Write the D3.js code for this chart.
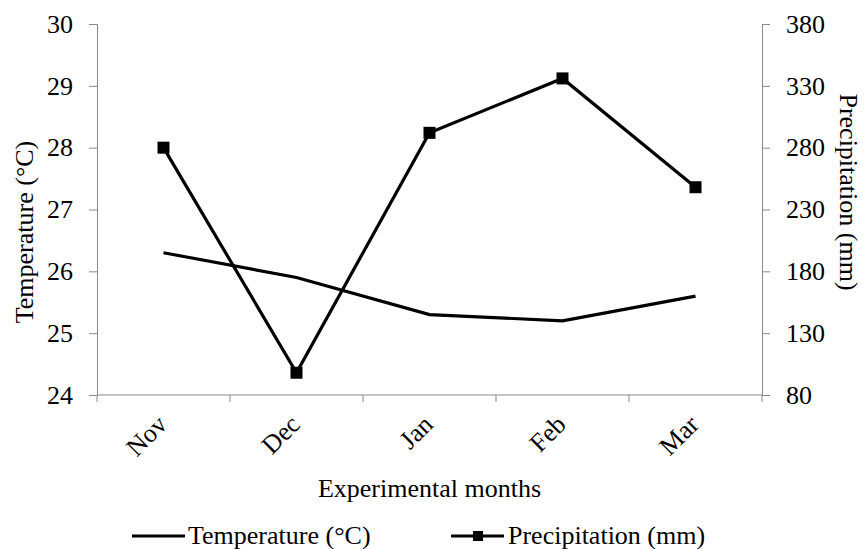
<!DOCTYPE html>
<html>
<head>
<meta charset="utf-8">
<script src="https://cdn.jsdelivr.net/npm/d3@7"></script>
<style>
  body { margin: 0; background: #fff; }
</style>
</head>
<body>
<div id="chart"></div>
<script>
const width = 865;
const height = 549;

const months = ["Nov", "Dec", "Jan", "Feb", "Mar"];
const temperature = [26.3, 25.9, 25.3, 25.2, 25.6];
const precipitation = [280, 98, 292, 336, 248];

const tempTicks = [24, 25, 26, 27, 28, 29, 30];
const precipTicks = [80, 130, 180, 230, 280, 330, 380];

const margin = {top: 24, right: 103, bottom: 154, left: 97};
const axisColor = "#898989";
const fontSize = 26;
const serif = "'Liberation Serif', 'Times New Roman', Times, serif";

const svg = d3.select("#chart").append("svg")
    .attr("width", width)
    .attr("height", height)
    .attr("font-family", serif)
    .style("font-family", serif);

const x = d3.scaleBand()
    .domain(months)
    .range([margin.left, width - margin.right]);

const yLeft = d3.scaleLinear()
    .domain([24, 30])
    .range([height - margin.bottom, margin.top]);

const yRight = d3.scaleLinear()
    .domain([80, 380])
    .range([height - margin.bottom, margin.top]);

const cx = d => x(d) + x.bandwidth() / 2;

// left axis
const gl = svg.append("g")
    .attr("transform", `translate(${margin.left},0)`)
    .call(d3.axisLeft(yLeft).tickValues(tempTicks).tickFormat(d3.format("d"))
        .tickSize(8).tickPadding(16));

// right axis
const gr = svg.append("g")
    .attr("transform", `translate(${width - margin.right},0)`)
    .call(d3.axisRight(yRight).tickValues(precipTicks).tickFormat(d3.format("d"))
        .tickSize(8).tickPadding(16));

// bottom axis with ticks on band edges
const xEdges = months.map(m => x(m)).concat([width - margin.right]);
const gb = svg.append("g");
gb.append("line")
    .attr("x1", margin.left).attr("x2", width - margin.right)
    .attr("y1", yLeft(24)).attr("y2", yLeft(24));
gb.selectAll("line.tick")
    .data(xEdges)
    .join("line")
    .attr("class", "tick")
    .attr("x1", d => d).attr("x2", d => d)
    .attr("y1", yLeft(24)).attr("y2", yLeft(24) + 7);

[gl, gr].forEach(g => {
    g.attr("font-family", null).attr("font-size", null);
    g.select(".domain").attr("stroke", axisColor);
    g.selectAll(".tick line").attr("stroke", axisColor);
    g.selectAll(".tick text")
        .style("font-family", serif)
        .style("font-size", fontSize + "px")
        .attr("fill", "#000");
});
gb.selectAll("line").attr("stroke", axisColor);

function label(sel) {
    return sel.style("font-family", serif)
        .style("font-size", fontSize + "px")
        .attr("fill", "#000");
}

// rotated month labels
svg.append("g").selectAll("text")
    .data(months)
    .join("text")
    .attr("transform", d => `translate(${cx(d) + 5},${yLeft(24) + 31}) rotate(-45)`)
    .attr("text-anchor", "end")
    .call(label)
    .text(d => d);

// axis titles
svg.append("text")
    .attr("transform", `translate(33,232) rotate(-90)`)
    .attr("text-anchor", "middle")
    .call(label)
    .text("Temperature (°C)");

svg.append("text")
    .attr("transform", `translate(840,192) rotate(90)`)
    .attr("text-anchor", "middle")
    .call(label)
    .text("Precipitation (mm)");

svg.append("text")
    .attr("x", (margin.left + width - margin.right) / 2)
    .attr("y", 497)
    .attr("text-anchor", "middle")
    .call(label)
    .text("Experimental months");

// lines
const tempLine = d3.line()
    .x((d, i) => cx(months[i]))
    .y(d => yLeft(d));

const precipLine = d3.line()
    .x((d, i) => cx(months[i]))
    .y(d => yRight(d));

svg.append("path")
    .datum(temperature)
    .attr("d", tempLine)
    .attr("fill", "none")
    .attr("stroke", "#000")
    .attr("stroke-width", 3.2);

svg.append("path")
    .datum(precipitation)
    .attr("d", precipLine)
    .attr("fill", "none")
    .attr("stroke", "#000")
    .attr("stroke-width", 3.2);

const sq = 12;
svg.append("g").selectAll("rect")
    .data(precipitation)
    .join("rect")
    .attr("x", (d, i) => cx(months[i]) - sq / 2)
    .attr("y", d => yRight(d) - sq / 2)
    .attr("width", sq)
    .attr("height", sq)
    .attr("fill", "#000");

// legend
const legendY = 536;
const legend = svg.append("g");
legend.append("line")
    .attr("x1", 132).attr("x2", 185)
    .attr("y1", legendY).attr("y2", legendY)
    .attr("stroke", "#000").attr("stroke-width", 3.2);
legend.append("text")
    .attr("x", 188).attr("y", legendY + 8)
    .call(label)
    .text("Temperature (°C)");

legend.append("line")
    .attr("x1", 451).attr("x2", 504)
    .attr("y1", legendY).attr("y2", legendY)
    .attr("stroke", "#000").attr("stroke-width", 3.2);
legend.append("rect")
    .attr("x", 478 - 5).attr("y", legendY - 5)
    .attr("width", 10).attr("height", 10)
    .attr("fill", "#000");
legend.append("text")
    .attr("x", 508).attr("y", legendY + 8)
    .call(label)
    .text("Precipitation (mm)");
</script>
</body>
</html>
